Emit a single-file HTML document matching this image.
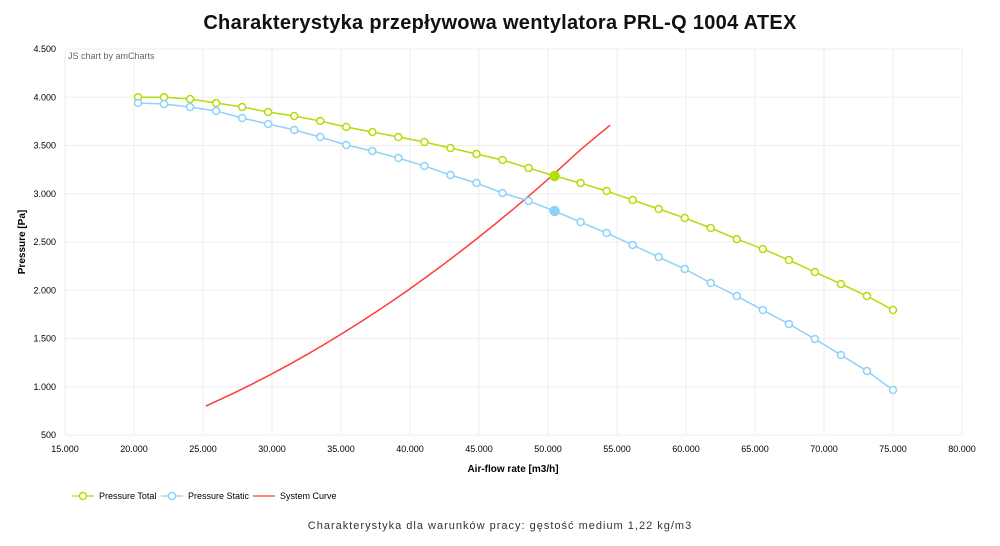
<!DOCTYPE html>
<html><head><meta charset="utf-8"><style>
body{margin:0;background:#fff;font-family:"Liberation Sans",sans-serif}
svg text{font-family:"Liberation Sans","DejaVu Sans",sans-serif}
</style></head><body>
<svg width="1000" height="541" viewBox="0 0 1000 541">
<text x="500" y="29" text-anchor="middle" font-size="20" font-weight="bold" letter-spacing="0.3" fill="#111">Charakterystyka przepływowa wentylatora PRL-Q 1004 ATEX</text>
<g id="grid"></g>
<text x="68" y="59" font-size="9" fill="#666">JS chart by amCharts</text>
<g id="series"></g>
<text transform="translate(25,242) rotate(-90)" text-anchor="middle" font-size="10" font-weight="bold" fill="#000">Pressure [Pa]</text>
<text x="513" y="472" text-anchor="middle" font-size="10" font-weight="bold" fill="#000">Air-flow rate [m3/h]</text>
<g>
<g><line x1="72" y1="496" x2="94" y2="496" stroke="#B0DE09" stroke-width="1.2"/><circle cx="83" cy="496" r="3.5" fill="#fff" stroke="#B0DE09" stroke-width="1.5"/><text x="99" y="499" font-size="9" fill="#000">Pressure Total</text></g>
<g><line x1="161" y1="496" x2="183" y2="496" stroke="#8CD2F9" stroke-width="1.2"/><circle cx="172" cy="496" r="3.5" fill="#fff" stroke="#8CD2F9" stroke-width="1.5"/><text x="188" y="499" font-size="9" fill="#000">Pressure Static</text></g>
<g><line x1="253" y1="496" x2="275" y2="496" stroke="#FF3C3C" stroke-width="1.2"/><text x="280" y="499" font-size="9" fill="#000">System Curve</text></g>
</g>
<text x="500" y="529" text-anchor="middle" font-size="11" letter-spacing="1" fill="#333">Charakterystyka dla warunków pracy: gęstość medium 1,22 kg/m3</text>
</svg>
<script>
const xTicks=[15000,20000,25000,30000,35000,40000,45000,50000,55000,60000,65000,70000,75000,80000];
const yTicks=[500,1000,1500,2000,2500,3000,3500,4000,4500];
const totalP=[4000,4000,3982,3940,3899,3847,3806,3754,3692,3640,3588,3536,3474,3412,3350,3267,3184,3111,3028,2935,2842,2749,2645,2530,2428,2313,2189,2065,1940,1795];
const staticP=[3940,3930,3899,3858,3785,3723,3661,3588,3505,3443,3370,3288,3194,3111,3008,2925,2821,2707,2593,2469,2344,2220,2075,1940,1795,1650,1495,1329,1163,966];
const flowStart=20290, flowEnd=75000;
const sysQ=[25200,27500,30000,32500,35000,37500,40000,42500,45000,47500,50000,52500,54500];
const sysP=[800,953,1134,1331,1544,1772,2016,2276,2552,2843,3150,3473,3710];
const opIndex=16;
const NS="http://www.w3.org/2000/svg";
const X=v=>65+(v-15000)/65000*897;
const Y=v=>435-(v-500)/4000*386;
function mk(t,a,p){const e=document.createElementNS(NS,t);for(const k in a)e.setAttribute(k,a[k]);p.appendChild(e);return e;}
const grid=document.getElementById('grid'),ser=document.getElementById('series');
xTicks.forEach(t=>{const l=mk('line',{x1:X(t),x2:X(t),y1:49,y2:435,stroke:'#eeeeee'},grid);


const tx=mk('text',{x:X(t),y:452,'text-anchor':'middle','font-size':9,fill:'#000'},grid);tx.textContent=t.toLocaleString('en').replace(/,/g,'.');

});
yTicks.forEach(t=>{const l=mk('line',{x1:65,x2:962,y1:Y(t),y2:Y(t),stroke:'#eeeeee'},grid);


const tx=mk('text',{x:56,y:Y(t)+3,'text-anchor':'end','font-size':9,fill:'#000'},grid);tx.textContent=t.toLocaleString('en').replace(/,/g,'.');

});
const n=totalP.length,Q=i=>flowStart+(flowEnd-flowStart)*i/(n-1);
const pts=sysQ.map((q,i)=>[X(q),Y(sysP[i])]);
let d='M'+pts[0][0]+','+pts[0][1];
for(let i=0;i<pts.length-1;i++){const p0=pts[i-1]||pts[i],p1=pts[i],p2=pts[i+1],p3=pts[i+2]||p2;
d+=' C'+(p1[0]+(p2[0]-p0[0])/6)+','+(p1[1]+(p2[1]-p0[1])/6)+' '+(p2[0]-(p3[0]-p1[0])/6)+','+(p2[1]-(p3[1]-p1[1])/6)+' '+p2[0]+','+p2[1];}
const sp=mk('path',{d:d,fill:'none',stroke:'#FF3C3C','stroke-width':1.5},ser);


[[totalP,'#B0DE09','pressure-total'],[staticP,'#8CD2F9','pressure-static']].forEach(([arr,c,nm])=>{
const pl=mk('polyline',{points:arr.map((v,i)=>X(Q(i))+','+Y(v)).join(' '),fill:'none',stroke:c,'stroke-width':1.5},ser);


arr.forEach((v,i)=>{const op=i===opIndex;const ci=mk('circle',{cx:X(Q(i)),cy:Y(v),r:op?4.5:3.5,fill:op?c:'#fff',stroke:c,'stroke-width':1.5},ser);

});});
</script>
</body></html>
